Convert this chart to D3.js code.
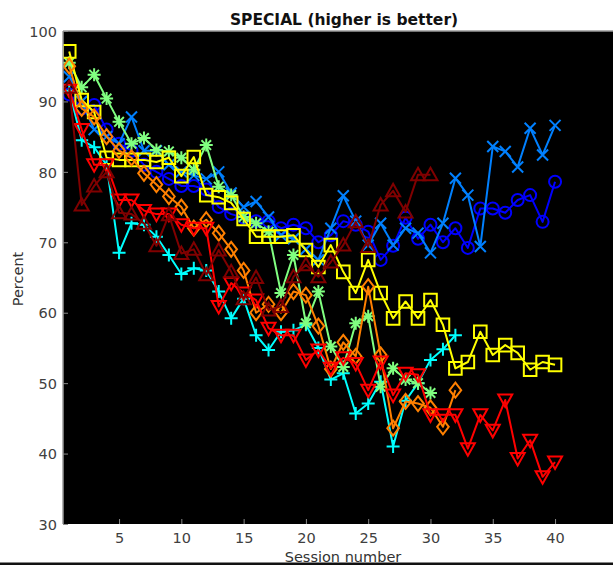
<!DOCTYPE html>
<html>
<head>
<meta charset="utf-8">
<script src="https://cdn.jsdelivr.net/npm/d3@7"></script>
<style>
  html, body { margin: 0; padding: 0; background: #fff; }
  svg { display: block; }
</style>
</head>
<body>
<svg id="chart" width="613" height="567"></svg>
<script>
// Session-by-session scores, one array per participant group
const blueCircle = [91, 89, 89.5, 86, 84, 83, 81, 80, 79, 78, 78, 77.5, 75, 74, 73.5, 73, 73, 72, 72.5, 72,
  70, 71, 73, 72.5, 71.5, 67.5, 69.5, 73.5, 70.5, 72.5, 70, 72, 69.2, 74.8, 74.8, 74.2, 76, 76.7, 72.9, 78.6];
const skyCross = [93.5, 90, 86, 85, 84, 87.8, 83, 83, 81, 80, 79.5, 79, 80, 77, 75, 75.8, 73.6, 71, 70.5, 69,
  67.5, 72, 76.6, 73, 69.6, 72.7, 69.6, 72, 71.3, 68.5, 72.7, 79.1, 76.7, 69.4, 83.6, 82.9, 80.7, 86.2, 82.4, 86.6];
const cyanPlus = [91.5, 84.5, 83.5, 81, 68.5, 72.7, 72.5, 70.8, 68.2, 65.5, 66.3, 66, 63, 59.2, 62, 56.8,
  54.7, 57.3, 57.5, 58.3, 55, 50.5, 51.4, 45.7, 47.1, 50.2, 41, 47.5, 50, 53.3, 54.8, 56.8];
const greenStar = [95.5, 92, 93.8, 90.4, 87.1, 84, 84.8, 83.1, 82.9, 82, 80.3, 83.8, 77.9, 76.7, 73.6, 72.7,
  71.5, 62.8, 68.2, 58.5, 63, 55.2, 52.3, 58.5, 59.5, 49.5, 52.1, 50.5, 50, 48.6];
const yellowSquare = [97.1, 90.2, 88.5, 82, 81.7, 81.7, 81.7, 81.4, 82, 79.4, 82.1, 76.7, 76.4, 75.6, 73.3, 70.8,
  70.8, 70.8, 71, 68.9, 66.5, 69.6, 65.8, 62.8, 67.5, 62.8, 59.2, 61.6, 59.2, 61.8, 58.3, 52.1, 53, 57.3, 54,
  55.4, 54.3, 51.9, 53, 52.6];
const orangeDiamond = [95, 89, 87.8, 85, 83, 82, 79.8, 78.2, 76.5, 75, 72, 73.2, 71.3, 69, 66, 60, 61.2, 60,
  63, 62.5, 58.1, 52, 55.8, 53.8, 63.7, 54, 43.6, 47.4, 47.1, 46.5, 43.8, 49];
const redDown = [91.6, 86, 81, 81, 76, 76, 74.5, 74, 74, 72.5, 72, 72, 60.9, 64.2, 62.8, 61.8, 57.8, 56.8, 56.8,
  53.3, 54.7, 52.1, 53.6, 52.8, 49, 53, 48.3, 51.4, 51.2, 45.5, 45.5, 45.5, 40.7, 45.5, 43.3, 47.6, 39.3, 41.9,
  36.7, 38.8];
const maroonUp = [92, 75.3, 78, 80, 74.2, 74, 72.7, 69.5, 73.9, 68.4, 69, 65.4, 68.9, 65.8, 62, 65, 60.4, 60.9,
  65.1, 66.8, 65.1, 67.2, 69.6, 72.9, 69.4, 75.3, 77.3, 74.3, 79.6, 79.6];

// Series in plotting order (later ones are drawn on top), jet(8) colours
const seriesValues = [blueCircle, skyCross, cyanPlus, greenStar, yellowSquare, orangeDiamond, redDown, maroonUp];
const seriesColors = ["#0000ff", "#0080ff", "#00ffff", "#80ff80", "#ffff00", "#ff8000", "#ff0000", "#800000"];
const seriesMarkers = ["o", "x", "+", "*", "s", "d", "v", "^"];

const xTicks = [5, 10, 15, 20, 25, 30, 35, 40];
const yTicks = [30, 40, 50, 60, 70, 80, 90, 100];

const titleText = "SPECIAL (higher is better)";
const xLabel = "Session number";
const yLabel = "Percent";

const svg = d3.select("#chart");
const W = 613, H = 567;
const plot = { left: 63, top: 31, bottom: 524 };

const x = d3.scaleLinear().domain([0.5, 45]).range([plot.left, plot.left + 44.5 * 12.457]);
const y = d3.scaleLinear().domain([30, 100]).range([plot.bottom, plot.top]);

const font = "'DejaVu Sans', 'Liberation Sans', sans-serif";

// black axes background, running off the right edge
svg.append("rect")
  .attr("x", plot.left).attr("y", plot.top)
  .attr("width", W - plot.left + 10).attr("height", plot.bottom - plot.top)
  .attr("fill", "#000");

// MATLAB-style open marker outlines
function markerPath(m) {
  const r = 6.5;
  switch (m) {
    case "o": return d3.symbol(d3.symbolCircle, Math.PI * 6 * 6)();
    case "x": { const a = 5.5; return `M${-a},${-a}L${a},${a}M${-a},${a}L${a},${-a}`; }
    case "+": return `M${-r},0H${r}M0,${-r}V${r}`;
    case "*": { const a = 4.8; return `M${-r},0H${r}M0,${-r}V${r}M${-a},${-a}L${a},${a}M${-a},${a}L${a},${-a}`; }
    case "s": { const a = 6.3; return `M${-a},${-a}H${a}V${a}H${-a}Z`; }
    case "d": return `M0,-7.5L5.8,0L0,7.5L-5.8,0Z`;
    case "v": return `M-7,-5.5H7L0,7Z`;
    case "^": return `M-7,5.5H7L0,-7Z`;
  }
}

const line = d3.line().x((d, i) => x(i + 1)).y(d => y(d));

const clip = svg.append("defs").append("clipPath").attr("id", "plotclip");
clip.append("rect").attr("x", plot.left).attr("y", plot.top - 10)
  .attr("width", W).attr("height", plot.bottom - plot.top + 10);

const g = svg.append("g").attr("clip-path", "url(#plotclip)");

seriesValues.forEach((vals, k) => {
  const sg = g.append("g");
  sg.append("path")
    .datum(vals)
    .attr("d", line)
    .attr("fill", "none")
    .attr("stroke", seriesColors[k])
    .attr("stroke-width", 2)
    .attr("stroke-linejoin", "round");
  sg.selectAll("path.mk")
    .data(vals)
    .join("path")
    .attr("class", "mk")
    .attr("transform", (d, i) => `translate(${x(i + 1)},${y(d)})`)
    .attr("d", markerPath(seriesMarkers[k]))
    .attr("fill", "none")
    .attr("stroke", seriesColors[k])
    .attr("stroke-width", 2);
});

// axis frame: left and top edges
svg.append("line").attr("x1", plot.left).attr("x2", plot.left)
  .attr("y1", plot.top).attr("y2", plot.bottom)
  .attr("stroke", "#9a9a9a").attr("stroke-width", 1.5);
svg.append("line").attr("x1", plot.left).attr("x2", W)
  .attr("y1", plot.top).attr("y2", plot.top)
  .attr("stroke", "#9a9a9a").attr("stroke-width", 1.5);

// axes with inward ticks
const xAxis = d3.axisBottom(x).tickValues(xTicks).tickSize(-5).tickPadding(9);
const yAxis = d3.axisLeft(y).tickValues(yTicks).tickSize(-5).tickPadding(6);

const xa = svg.append("g").attr("transform", `translate(0,${plot.bottom})`).call(xAxis);
const ya = svg.append("g").attr("transform", `translate(${plot.left},0)`).call(yAxis);
[xa, ya].forEach(a => {
  a.select(".domain").remove();
  a.selectAll(".tick line").attr("stroke", "#8a8a8a").attr("stroke-width", 1);
  a.selectAll(".tick text").attr("fill", "#404040")
    .style("font-family", font).style("font-size", "14.5px");
});
ya.selectAll(".tick text").attr("dy", "0.36em");

// title and axis labels
svg.append("text")
  .attr("x", 344).attr("y", 25)
  .attr("text-anchor", "middle")
  .style("font-family", font).style("font-size", "15.5px").style("font-weight", "bold")
  .attr("fill", "#111")
  .text(titleText);

svg.append("text")
  .attr("transform", "translate(23,279) rotate(-90)")
  .attr("text-anchor", "middle")
  .style("font-family", font).style("font-size", "14.5px")
  .attr("fill", "#333")
  .text(yLabel);

svg.append("text")
  .attr("x", 343).attr("y", 562)
  .attr("text-anchor", "middle")
  .style("font-family", font).style("font-size", "14.5px")
  .attr("fill", "#333")
  .text(xLabel);

// frame rule along the bottom edge
svg.append("rect").attr("x", 0).attr("y", 562.5).attr("width", W).attr("height", 2.5).attr("fill", "#111");
svg.append("rect").attr("x", 0).attr("y", 565).attr("width", W).attr("height", 2).attr("fill", "#fff");
</script>
</body>
</html>
